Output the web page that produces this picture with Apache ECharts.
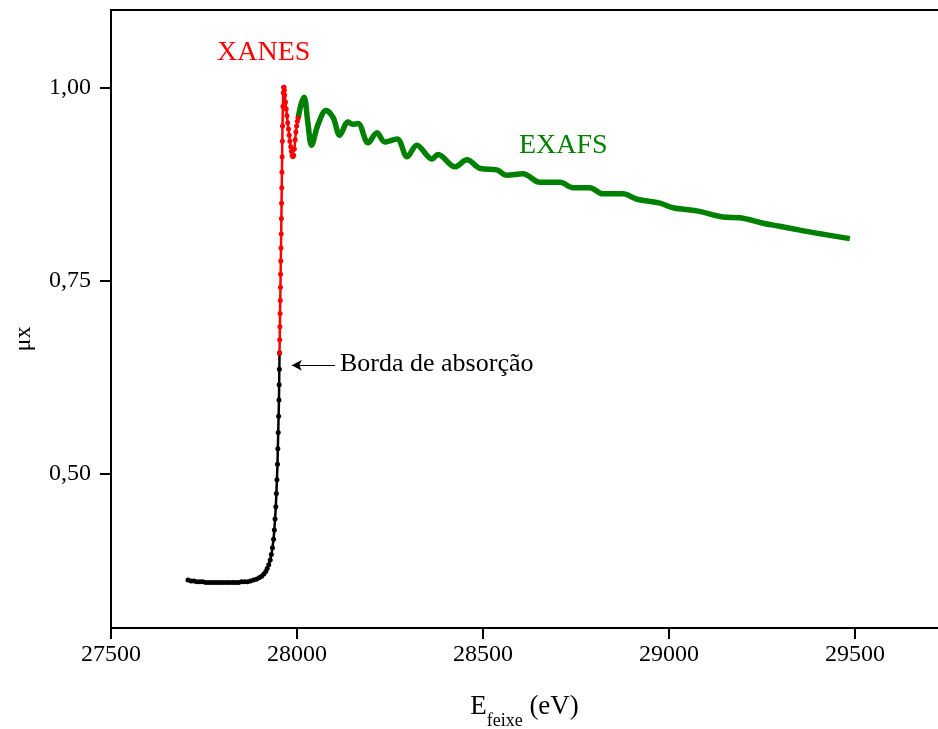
<!DOCTYPE html>
<html>
<head>
<meta charset="utf-8">
<title>XANES / EXAFS</title>
<script src="https://cdn.jsdelivr.net/npm/echarts@6/dist/echarts.min.js"></script>
<style>
  html, body { margin: 0; padding: 0; background: #fff; }
  #chart { width: 938px; height: 729px; }
</style>
</head>
<body>
<div id="chart"></div>
<script>
// energia do feixe (eV) e absorção (mu x)
var preEdgeE = [27707, 27715, 27723, 27731, 27739, 27747, 27755, 27763, 27771, 27779, 27787, 27795,
  27803, 27811, 27819, 27827, 27835, 27843, 27851, 27859, 27867, 27875, 27883, 27891, 27898, 27905,
  27911, 27916, 27920, 27924, 27928, 27931, 27934, 27937, 27939, 27941, 27943, 27944.5, 27946,
  27947.5, 27948.5, 27949.5, 27950.5, 27951.5, 27952, 27952.5, 27953];
var preEdgeMu = [0.362, 0.361, 0.361, 0.360, 0.360, 0.360, 0.359, 0.359, 0.359, 0.359, 0.359, 0.359,
  0.359, 0.359, 0.359, 0.359, 0.359, 0.359, 0.360, 0.360, 0.360, 0.361, 0.362, 0.363, 0.365, 0.367,
  0.370, 0.373, 0.377, 0.382, 0.388, 0.395, 0.404, 0.415, 0.427, 0.441, 0.457, 0.474, 0.492,
  0.512, 0.532, 0.553, 0.574, 0.595, 0.615, 0.635, 0.656];

var xanesE = [27953, 27953.5, 27954, 27954.5, 27955, 27955.5, 27956, 27956.5, 27957, 27957.5, 27958,
  27958.5, 27959, 27959.5, 27960, 27960.5, 27961, 27962, 27963, 27964, 27965, 27966, 27967, 27969,
  27971, 27973, 27975, 27977, 27979, 27981, 27983, 27985, 27987, 27989, 27991, 27993, 27995, 27997,
  27999, 28001, 28003];
var xanesMu = [0.656, 0.673, 0.690, 0.707, 0.724, 0.741, 0.758, 0.775, 0.792, 0.810, 0.830,
  0.850, 0.870, 0.890, 0.910, 0.930, 0.950, 0.975, 0.993, 1.000, 1.000, 0.996, 0.990, 0.981,
  0.972, 0.963, 0.954, 0.946, 0.938, 0.930, 0.923, 0.917, 0.912, 0.910, 0.912, 0.920, 0.932, 0.942,
  0.950, 0.956, 0.960];

var exafsE = [28003, 28011, 28019, 28029, 28039, 28056, 28078, 28097, 28115, 28137, 28150, 28164,
  28191, 28215, 28236, 28269, 28296, 28322, 28363, 28379, 28425, 28457, 28492, 28537, 28564, 28607,
  28653, 28707, 28742, 28787, 28822, 28876, 28914, 28976, 29011, 29075, 29145, 29191, 29253, 29298,
  29352, 29398, 29486];
var exafsMu = [0.960, 0.978, 0.987, 0.955, 0.925, 0.951, 0.970, 0.961, 0.938, 0.955, 0.952, 0.953,
  0.928, 0.941, 0.929, 0.933, 0.910, 0.925, 0.907, 0.913, 0.897, 0.906, 0.895, 0.893, 0.886, 0.888,
  0.877, 0.877, 0.870, 0.870, 0.862, 0.862, 0.855, 0.850, 0.844, 0.840, 0.832, 0.831, 0.824, 0.820,
  0.815, 0.811, 0.804];

var yTicks = [0.50, 0.75, 1.00];

function pares(xs, ys) {
  return xs.map(function (x, i) { return [x, ys[i]]; });
}

var fonte = 'Liberation Serif';
var chart = echarts.init(document.getElementById('chart'), null, { renderer: 'canvas' });

chart.setOption({
  animation: false,
  backgroundColor: '#fff',
  grid: { left: 111, right: 0, top: 10, bottom: 101, containLabel: false, outerBoundsMode: 'none' },
  xAxis: [{
    type: 'value',
    min: 27500,
    max: 29723,
    interval: 500,
    axisLine: { lineStyle: { color: '#000', width: 2 } },
    axisTick: { length: 11, lineStyle: { color: '#000', width: 2 } },
    axisLabel: {
      color: '#000', fontFamily: fonte, fontSize: 24, margin: 15,
      showMaxLabel: false,
      formatter: function (v) { return String(v); }
    },
    splitLine: { show: false },
    name: '{a|E}{b|feixe}{a| (eV)}',
    nameLocation: 'middle',
    nameGap: 62,
    nameTextStyle: {
      rich: {
        a: { fontFamily: fonte, fontSize: 27, color: '#000', verticalAlign: 'bottom', lineHeight: 30 },
        b: { fontFamily: fonte, fontSize: 18, color: '#000', verticalAlign: 'bottom', lineHeight: 30, padding: [0, 0, -10, 0] }
      }
    }
  }, {
    type: 'value',
    position: 'top',
    min: 27500,
    max: 29723,
    axisLine: { show: true, onZero: false, lineStyle: { color: '#000', width: 2 } },
    axisTick: { show: false },
    axisLabel: { show: false },
    splitLine: { show: false }
  }],
  yAxis: {
    type: 'value',
    min: 0.30,
    max: 1.10,
    axisLine: { show: true, lineStyle: { color: '#000', width: 2 } },
    axisTick: { show: true, length: 11, customValues: yTicks, lineStyle: { color: '#000', width: 2 } },
    axisLabel: {
      color: '#000', fontFamily: fonte, fontSize: 24, margin: 20,
      customValues: yTicks,
      formatter: function (v) { return v.toFixed(2).replace('.', ','); }
    },
    splitLine: { show: false }
  },
  graphic: [
    { type: 'text', x: 24, y: 339, rotation: Math.PI / 2,
      style: { text: 'μx', font: '24px "Liberation Serif"', fill: '#000', align: 'center', verticalAlign: 'middle' } },
    { type: 'text', x: 217, y: 53,
      style: { text: 'XANES', font: '28px "Liberation Serif"', fill: '#ff0000', align: 'left', verticalAlign: 'middle' } },
    { type: 'text', x: 519, y: 146,
      style: { text: 'EXAFS', font: '28px "Liberation Serif"', fill: '#008000', align: 'left', verticalAlign: 'middle' } },
    { type: 'text', x: 340, y: 364,
      style: { text: 'Borda de absorção', font: '26px "Liberation Serif"', fill: '#000', align: 'left', verticalAlign: 'middle' } }
  ],
  series: [{
    name: 'pre-borda',
    type: 'line',
    data: pares(preEdgeE, preEdgeMu),
    symbol: 'circle',
    symbolSize: 5,
    itemStyle: { color: '#000' },
    lineStyle: { color: '#000', width: 2.5 },
    markLine: {
      silent: true,
      symbol: ['none', 'arrow'],
      symbolSize: [8, 10],
      label: { show: false },
      lineStyle: { color: '#000', width: 1.2, type: 'solid' },
      data: [[{ coord: [28102, 0.640] }, { coord: [27986, 0.640] }]]
    }
  }, {
    name: 'XANES',
    type: 'line',
    data: pares(xanesE, xanesMu),
    symbol: 'circle',
    symbolSize: 5,
    itemStyle: { color: '#ff0000' },
    lineStyle: { color: '#ff0000', width: 2.5 }
  }, {
    name: 'EXAFS',
    type: 'line',
    data: pares(exafsE, exafsMu),
    showSymbol: false,
    smooth: 0.35,
    itemStyle: { color: '#008000' },
    lineStyle: { color: '#008000', width: 5.5 }
  }]
});
</script>
</body>
</html>
